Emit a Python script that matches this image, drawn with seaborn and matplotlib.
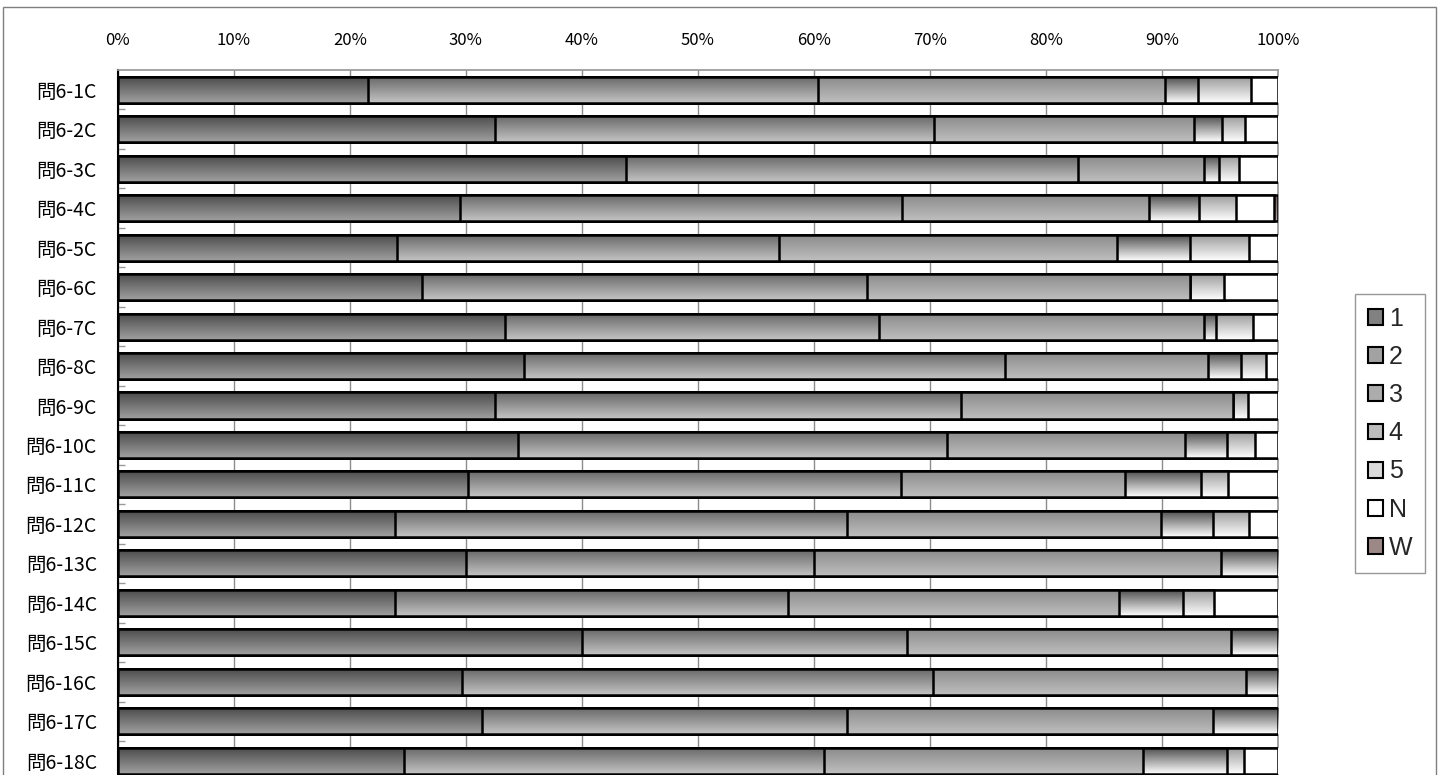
import numpy as np
import pandas as pd
import matplotlib
matplotlib.use('Agg')
import matplotlib.pyplot as plt
import seaborn as sns
from matplotlib.patches import Patch, Rectangle

questions = ['問6-1C', '問6-2C', '問6-3C', '問6-4C', '問6-5C', '問6-6C',
             '問6-7C', '問6-8C', '問6-9C', '問6-10C', '問6-11C', '問6-12C',
             '問6-13C', '問6-14C', '問6-15C', '問6-16C', '問6-17C', '問6-18C']
ans1 = [21.6, 32.5, 43.8, 29.5, 24.1, 26.2, 33.4, 35.0, 32.5, 34.5, 30.2, 23.9, 30.0, 23.9, 40.0, 29.7, 31.4, 24.7]
ans2 = [38.8, 37.9, 39.0, 38.1, 32.9, 38.4, 32.2, 41.5, 40.2, 37.0, 37.3, 39.0, 30.0, 33.9, 28.0, 40.6, 31.5, 36.2]
ans3 = [29.9, 22.4, 10.8, 21.3, 29.1, 27.8, 28.0, 17.5, 23.4, 20.5, 19.3, 27.0, 35.1, 28.5, 28.0, 27.0, 31.5, 27.5]
ans4 = [2.8, 2.4, 1.3, 4.3, 6.3, 0.0, 1.1, 2.8, 0.0, 3.6, 6.6, 4.5, 4.9, 5.5, 4.0, 2.7, 5.6, 7.2]
ans5 = [4.6, 2.0, 1.8, 3.2, 5.1, 3.0, 3.2, 2.2, 1.3, 2.4, 2.3, 3.1, 0.0, 2.7, 0.0, 0.0, 0.0, 1.5]
ansN = [2.3, 2.8, 3.3, 3.3, 2.5, 4.6, 2.1, 1.0, 2.6, 2.0, 4.3, 2.5, 0.0, 5.5, 0.0, 0.0, 0.0, 2.9]
ansW = [0.0, 0.0, 0.0, 0.3, 0.0, 0.0, 0.0, 0.0, 0.0, 0.0, 0.0, 0.0, 0.0, 0.0, 0.0, 0.0, 0.0, 0.0]
series = ['1', '2', '3', '4', '5', 'N', 'W']

# top / bottom colours of the vertical gradient for each answer
grads = {
    '1': ('#4a4a4a', '#a0a0a0'),
    '2': ('#666666', '#c4c4c4'),
    '3': ('#8a8a8a', '#bfbfbf'),
    '4': ('#4a4a4a', '#ffffff'),
    '5': ('#999999', '#ffffff'),
    'N': ('#ffffff', '#ffffff'),
    'W': ('#6e5656', '#b8a4a4'),
}

sns.set_theme(style='white')
plt.rcParams['font.family'] = ['Noto Sans CJK JP', 'DejaVu Sans']

df = pd.DataFrame({'q': questions, '1': ans1, '2': ans2, '3': ans3, '4': ans4,
                   '5': ans5, 'N': ansN, 'W': ansW})
cum = df[series].cumsum(axis=1)
cum['q'] = df['q']
long = cum.melt(id_vars='q', var_name='ans', value_name='pct')

fig = plt.figure(figsize=(14.43, 7.75), dpi=100)
ax = fig.add_axes([0.0816, -0.0071, 0.8039, 0.9168])


def gradient(top, bottom, n=64):
    t = np.linspace(0, 1, n)[:, None, None]
    c0 = np.array(matplotlib.colors.to_rgb(top))
    c1 = np.array(matplotlib.colors.to_rgb(bottom))
    return c0 * (1 - t) + c1 * t


# stacked look: cumulative bars overlaid, longest first
order = series[::-1]
sns.barplot(data=long, x='pct', y='q', hue='ans', hue_order=order, order=questions,
            orient='h', dodge=False, palette={s: 'white' for s in series},
            width=0.66, edgecolor='black', linewidth=1.8, legend=False, ax=ax)

for i, (s, cont) in enumerate(zip(order, ax.containers)):
    z = 2 + 2 * i
    img = gradient(*grads[s])
    for p in cont.patches:
        x0, y0, w, h = p.get_x(), p.get_y(), p.get_width(), p.get_height()
        im = ax.imshow(img, extent=(x0, x0 + w, y0 + h, y0), origin='upper',
                       aspect='auto', interpolation='bilinear', zorder=z)
        im.set_clip_path(p)
        p.set_facecolor('none')
        p.set_zorder(z + 1)

ax.set_xlim(0, 100)
ax.set_ylim(len(questions) - 0.5, -0.5)
ax.set_xlabel('')
ax.set_ylabel('')

ax.xaxis.tick_top()
ax.set_xticks(range(0, 101, 10))
ax.set_xticklabels([f'{v}%' for v in range(0, 101, 10)])
ax.tick_params(axis='x', length=0, pad=15, labelsize=12, colors='black')
ax.tick_params(axis='y', which='major', length=0, pad=15, labelsize=14, colors='black')
ax.set_yticks(np.arange(0.5, len(questions) - 0.5, 1), minor=True)
ax.tick_params(axis='y', which='minor', left=True, direction='in', length=5,
               width=1, color='#999999')

ax.grid(axis='x', color='#8c8c8c', linewidth=1)
ax.set_axisbelow(True)
ax.spines['left'].set_color('black')
ax.spines['left'].set_linewidth(1.5)
ax.spines['top'].set_color('#999999')
ax.spines['right'].set_color('#999999')
ax.spines['bottom'].set_visible(False)

handles = [Patch(facecolor=gradient(*grads[s])[40, 0], edgecolor='black', linewidth=1.5)
           for s in series]
leg = fig.legend(handles, series, loc='upper left',
                 bbox_to_anchor=(1355 / 1443, 1 - 294 / 775),
                 frameon=True, fancybox=False, edgecolor='#7f7f7f',
                 prop={'family': 'Liberation Sans', 'size': 18},
                 handlelength=0.6, handleheight=0.6, handletextpad=0.25,
                 labelspacing=0.57, borderpad=0.5, borderaxespad=0)
leg.get_frame().set_linewidth(1)

fig.patches.append(Rectangle((0.0019, -0.01), 0.9932, 1.0014, transform=fig.transFigure,
                             fill=False, edgecolor='#7f7f7f', linewidth=1))

fig.savefig('out.png', dpi=100)
